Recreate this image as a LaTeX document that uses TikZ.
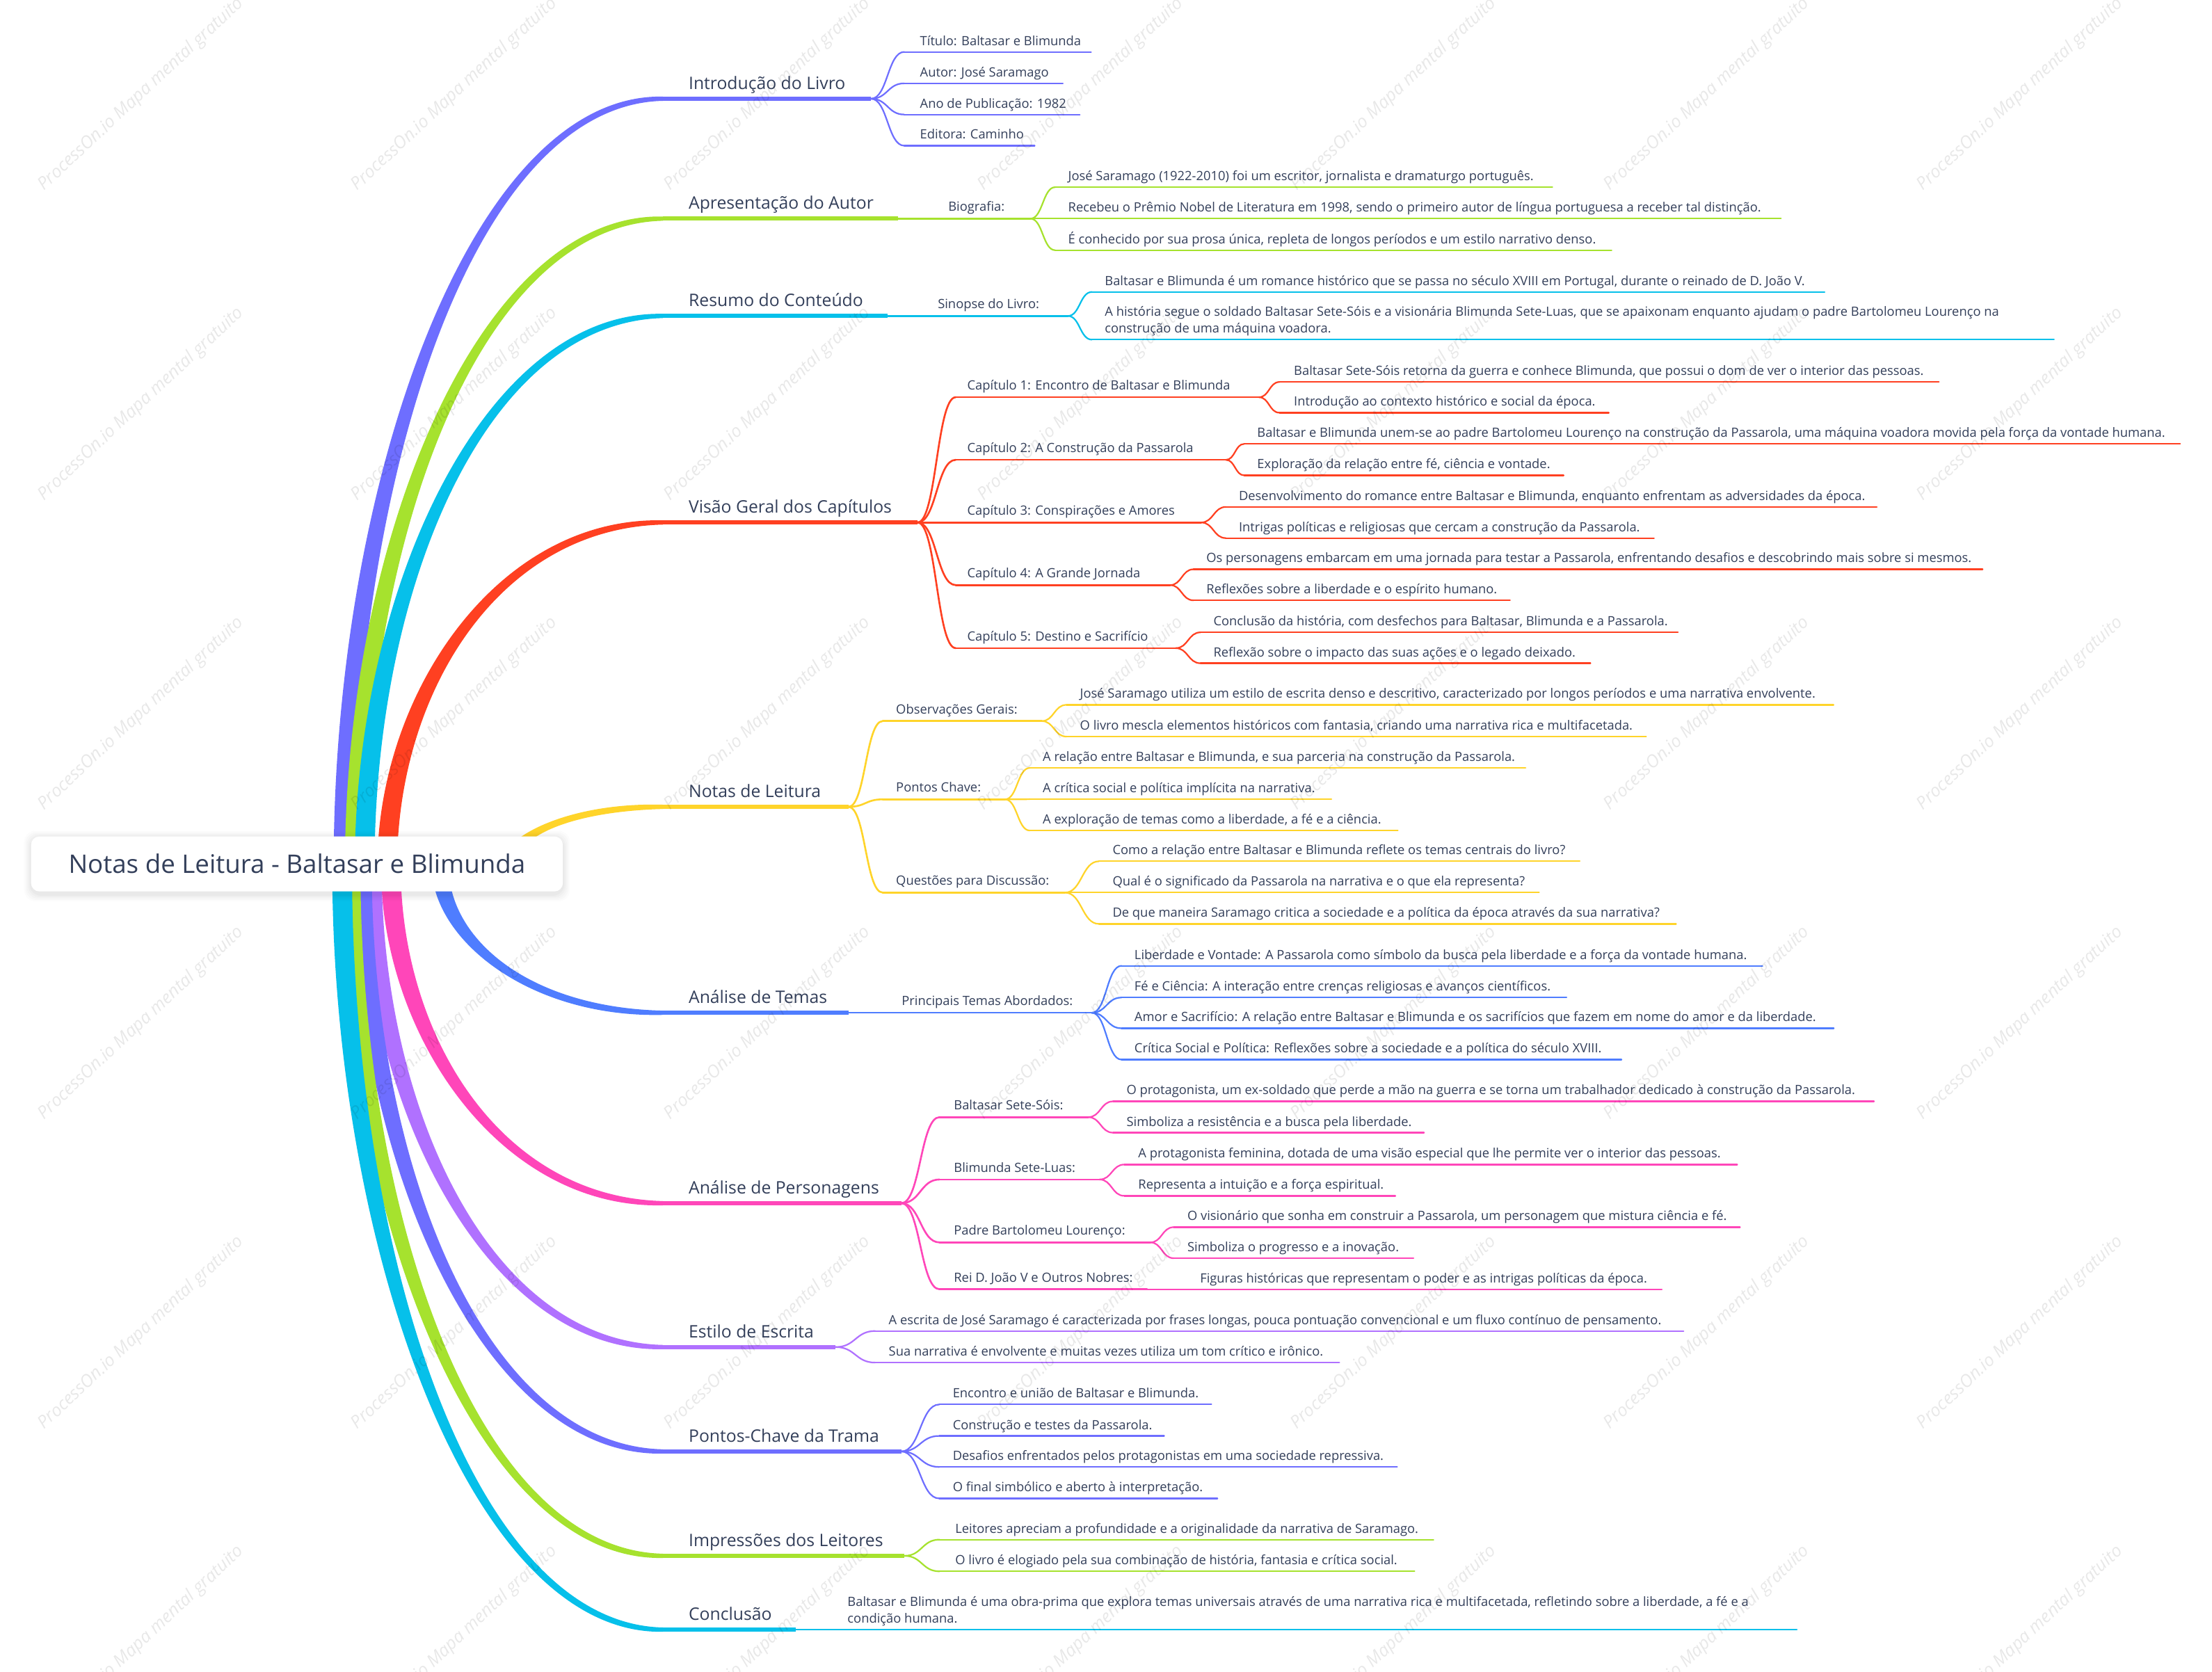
\documentclass[tikz,border=0pt]{standalone}
\usepackage{fontspec}
\setmainfont{Open Sans}
\usetikzlibrary{calc}
\definecolor{cV}{HTML}{6E6EFF}
\definecolor{cG}{HTML}{A6E22E}
\definecolor{cC}{HTML}{06C0EA}
\definecolor{cR}{HTML}{FF4021}
\definecolor{cY}{HTML}{FFD42A}
\definecolor{cB}{HTML}{4F7DFF}
\definecolor{cP}{HTML}{FF46B9}
\definecolor{cU}{HTML}{B071FF}
\definecolor{txt}{HTML}{333F5A}
% text node: name, style, x of line start, x of text, x of line end, y of line, text
\newcommand\tn[7]{\node[#2] (#1) at (#3,#6) {\hspace*{\dimexpr #4pt-#3pt\relax}\makebox[\dimexpr #5pt-#4pt\relax][l]{#7}};}
\newcommand\ul[2]{\draw[#2] (#1.south west) -- (#1.south east);}
\newcommand\cn[3]{\draw[#3] (#1.south east) to[bc] (#2.south west);}
% tapered main branch: colour, start coordinate, target node, start width, end width, sign (1 up, -1 down)
\newcommand\mainb[6]{%
\fill[#1] let \p1=(#2), \p2=(#3.south west), \n1={0.5*(\y2-\y1)}, \n2={\x1+0.4*(\x2-\x1)}, \n3={0.62*#4} in
 ({\x1-#4*0.5pt},\y1) .. controls ({\x1-#4*0.5pt},{\y1+(\n1)*1pt}) and ({(\n2)*1pt},{\y2+(#6)*(\n3)*0.5pt}) .. (\x2,{\y2+(#6)*#5*0.5pt})
 -- (\x2,{\y2-(#6)*#5*0.5pt}) .. controls ({(\n2)*1pt},{\y2-(#6)*(\n3)*0.5pt}) and ({\x1+#4*0.5pt},{\y1+(\n1)*1pt}) .. ({\x1+#4*0.5pt},\y1) -- cycle;}
\tikzset{
 bc/.style={to path={let \p1=(\tikztostart), \p2=(\tikztotarget), \n1={0.5*(\x2-\x1)} in .. controls ({\x1+(\n1)*1pt},\y1) and ({\x2-(\n1)*1pt},\y2) .. (\tikztotarget)}},
 tx/.style={text=txt, inner xsep=0pt, text depth=0pt, anchor=south west},
 lv1/.style={tx, font=\fontsize{12.2}{15}\selectfont, inner ysep=6.5pt, text height=9pt},
 lv2/.style={tx, font=\fontsize{9.05}{12}\selectfont, inner ysep=5pt, text height=7pt},
 lv3/.style={tx, font=\fontsize{9.05}{12}\selectfont, inner ysep=4.5pt, text height=7pt},
 m1/.style={line width=3pt, line cap=butt},
 m2/.style={line width=1.3pt, line cap=round},
 m3/.style={line width=1.1pt, line cap=round},
 rootbox/.style={fill=white, rounded corners=6pt, minimum width=377pt, minimum height=39pt, inner sep=0pt, text=txt, font=\fontsize{18.1}{22}\selectfont},
 wm/.style={font=\fontsize{12.4}{14}\selectfont\itshape, text=black, opacity=0.09, rotate=43, inner sep=0pt}
}
\begin{document}
\begin{tikzpicture}[x=1pt,y=-1pt]
\useasboundingbox (0,0) rectangle (1568,1185);
\fill[white] (0,0) rectangle (1568,1185);

% ---------- level 1 labels ----------
\tn{intro}{lv1}{470}{488}{617}{70}{Introdução do Livro}
\tn{autor}{lv1}{470}{488}{636}{155}{Apresentação do Autor}
\tn{resumo}{lv1}{470}{488}{629}{224}{Resumo do Conteúdo}
\tn{visao}{lv1}{470}{488}{650}{370.4}{Visão Geral dos Capítulos}
\tn{notas}{lv1}{470}{488}{601}{572}{Notas de Leitura}
\tn{temas}{lv1}{470}{488}{601}{718}{Análise de Temas}
\tn{perso}{lv1}{470}{488}{638.5}{853}{Análise de Personagens}
\tn{estilo}{lv1}{470}{488}{592}{955}{Estilo de Escrita}
\tn{pontos}{lv1}{470}{488}{638.5}{1029}{Pontos-Chave da Trama}
\tn{impr}{lv1}{470}{488}{640.7}{1103}{Impressões dos Leitores}
\tn{concl}{lv1}{470}{488}{563.6}{1155.3}{Conclusão}

% ---------- main branches ----------
\coordinate (r1) at (243.5,614);
\coordinate (r2) at (251.5,614);
\coordinate (r3) at (258.5,614);
\coordinate (r4) at (274.5,614);
\coordinate (r5) at (360,614);
\coordinate (r6) at (312,614);
\coordinate (r7) at (277,614);
\coordinate (r8) at (263.5,614);
\coordinate (r9) at (256.5,614);
\coordinate (r10) at (248.5,614);
\coordinate (r11) at (242.5,614);
\mainb{cV}{r1}{intro}{14}{3}{1}
\mainb{cG}{r2}{autor}{14}{3}{1}
\mainb{cC}{r3}{resumo}{14}{3}{1}
\mainb{cR}{r4}{visao}{14}{3}{1}
\mainb{cY}{r5}{notas}{11}{3}{1}
\mainb{cB}{r6}{temas}{12}{3}{-1}
\mainb{cP}{r7}{perso}{14}{3}{-1}
\mainb{cU}{r8}{estilo}{14}{3}{-1}
\mainb{cV}{r9}{pontos}{14}{3}{-1}
\mainb{cG}{r10}{impr}{14}{3}{-1}
\mainb{cC}{r11}{concl}{14}{3}{-1}
\ul{intro}{m1,cV}\ul{autor}{m1,cG}\ul{resumo}{m1,cC}\ul{visao}{m1,cR}
\ul{notas}{m1,cY}\ul{temas}{m1,cB}\ul{perso}{m1,cP}\ul{estilo}{m1,cU}
\ul{pontos}{m1,cV}\ul{impr}{m1,cG}\ul{concl}{m1,cC}

% ---------- Introdução ----------
\tn{t1}{lv3}{641}{652}{773}{36.8}{Título: Baltasar e Blimunda}
\tn{t2}{lv3}{641}{652}{753}{59.1}{Autor: José Saramago}
\tn{t3}{lv3}{641}{652}{765}{81.2}{Ano de Publicação: 1982}
\tn{t4}{lv3}{641}{652}{733}{103.3}{Editora: Caminho}
\foreach \c in {t1,t2,t3,t4}{\cn{intro}{\c}{m3,cV}\ul{\c}{m3,cV}}

% ---------- Apresentação ----------
\tn{bio}{lv2}{654}{672}{730}{155}{Biografia:}
\cn{autor}{bio}{m2,cG}\ul{bio}{m2,cG}
\tn{b1}{lv3}{748}{757}{1100}{132.7}{José Saramago (1922-2010) foi um escritor, jornalista e dramaturgo português.}
\tn{b2}{lv3}{748}{757}{1262}{155}{Recebeu o Prêmio Nobel de Literatura em 1998, sendo o primeiro autor de língua portuguesa a receber tal distinção.}
\tn{b3}{lv3}{748}{757}{1142}{177.4}{É conhecido por sua prosa única, repleta de longos períodos e um estilo narrativo denso.}
\foreach \c in {b1,b2,b3}{\cn{bio}{\c}{m3,cG}\ul{\c}{m3,cG}}

% ---------- Resumo ----------
\tn{sin}{lv2}{646.6}{664.6}{756.6}{224}{Sinopse do Livro:}
\cn{resumo}{sin}{m2,cC}\ul{sin}{m2,cC}
\tn{s1}{lv3}{774}{783}{1293}{207}{Baltasar e Blimunda é um romance histórico que se passa no século XVIII em Portugal, durante o reinado de D. João V.}
\tn{s2}{lv3}{774}{783}{1455.6}{240.8}{\parbox[b]{800pt}{\raggedright A história segue o soldado Baltasar Sete-Sóis e a visionária Blimunda Sete-Luas, que se apaixonam enquanto ajudam o padre Bartolomeu Lourenço na\\construção de uma máquina voadora.}}
\foreach \c in {s1,s2}{\cn{sin}{\c}{m3,cC}\ul{\c}{m3,cC}}

% ---------- Visão Geral ----------
\tn{cap1}{lv2}{677.5}{685.5}{892}{281.6}{Capítulo 1: Encontro de Baltasar e Blimunda}
\tn{cap2}{lv2}{677.5}{685.5}{868.6}{326}{Capítulo 2: A Construção da Passarola}
\tn{cap3}{lv2}{677.5}{685.5}{851}{370.4}{Capítulo 3: Conspirações e Amores}
\tn{cap4}{lv2}{677.5}{685.5}{829}{414.8}{Capítulo 4: A Grande Jornada}
\tn{cap5}{lv2}{677.5}{685.5}{833}{459.5}{Capítulo 5: Destino e Sacrifício}
\foreach \c in {cap1,cap2,cap3,cap4,cap5}{\cn{visao}{\c}{m2,cR}\ul{\c}{m2,cR}}
\tn{c11}{lv3}{907}{917}{1374}{270.8}{Baltasar Sete-Sóis retorna da guerra e conhece Blimunda, que possui o dom de ver o interior das pessoas.}
\tn{c12}{lv3}{907}{917}{1140}{292.6}{Introdução ao contexto histórico e social da época.}
\tn{c21}{lv3}{882}{891}{1545}{314.7}{Baltasar e Blimunda unem-se ao padre Bartolomeu Lourenço na construção da Passarola, uma máquina voadora movida pela força da vontade humana.}
\tn{c22}{lv3}{882}{891}{1108}{337}{Exploração da relação entre fé, ciência e vontade.}
\tn{c31}{lv3}{869}{878}{1330}{359.4}{Desenvolvimento do romance entre Baltasar e Blimunda, enquanto enfrentam as adversidades da época.}
\tn{c32}{lv3}{869}{878}{1172}{381.5}{Intrigas políticas e religiosas que cercam a construção da Passarola.}
\tn{c41}{lv3}{846}{855}{1405}{403.6}{Os personagens embarcam em uma jornada para testar a Passarola, enfrentando desafios e descobrindo mais sobre si mesmos.}
\tn{c42}{lv3}{846}{855}{1070}{425.6}{Reflexões sobre a liberdade e o espírito humano.}
\tn{c51}{lv3}{851}{860}{1189}{448.3}{Conclusão da história, com desfechos para Baltasar, Blimunda e a Passarola.}
\tn{c52}{lv3}{851}{860}{1127}{470.2}{Reflexão sobre o impacto das suas ações e o legado deixado.}
\foreach \p/\c in {cap1/c11,cap1/c12,cap2/c21,cap2/c22,cap3/c31,cap3/c32,cap4/c41,cap4/c42,cap5/c51,cap5/c52}{\cn{\p}{\c}{m3,cR}\ul{\c}{m3,cR}}

% ---------- Notas de Leitura ----------
\tn{obs}{lv2}{625.7}{635}{738}{511.2}{Observações Gerais:}
\tn{pch}{lv2}{625.7}{635}{712}{566.7}{Pontos Chave:}
\tn{que}{lv2}{625.7}{635}{754.5}{632.8}{Questões para Discussão:}
\foreach \c in {obs,pch,que}{\cn{notas}{\c}{m2,cY}\ul{\c}{m2,cY}}
\tn{o1}{lv3}{756}{765.4}{1299.3}{499.7}{José Saramago utiliza um estilo de escrita denso e descritivo, caracterizado por longos períodos e uma narrativa envolvente.}
\tn{o2}{lv3}{756}{765.4}{1166.5}{522.2}{O livro mescla elementos históricos com fantasia, criando uma narrativa rica e multifacetada.}
\tn{p1}{lv3}{730}{739}{1081}{544.4}{A relação entre Baltasar e Blimunda, e sua parceria na construção da Passarola.}
\tn{p2}{lv3}{730}{739}{943.4}{566.6}{A crítica social e política implícita na narrativa.}
\tn{p3}{lv3}{730}{739}{990.5}{588.8}{A exploração de temas como a liberdade, a fé e a ciência.}
\tn{q1}{lv3}{779}{788.5}{1119.4}{610.6}{Como a relação entre Baltasar e Blimunda reflete os temas centrais do livro?}
\tn{q2}{lv3}{779}{788.5}{1090.6}{632.8}{Qual é o significado da Passarola na narrativa e o que ela representa?}
\tn{q3}{lv3}{779}{788.5}{1187.7}{655}{De que maneira Saramago critica a sociedade e a política da época através da sua narrativa?}
\foreach \p/\c in {obs/o1,obs/o2,pch/p1,pch/p2,pch/p3,que/q1,que/q2,que/q3}{\cn{\p}{\c}{m3,cY}\ul{\c}{m3,cY}}

% ---------- Análise de Temas ----------
\tn{pta}{lv2}{623}{639}{773.5}{718}{Principais Temas Abordados:}
\cn{temas}{pta}{m2,cB}\ul{pta}{m2,cB}
\tn{a1}{lv3}{795}{804}{1249}{684.7}{Liberdade e Vontade: A Passarola como símbolo da busca pela liberdade e a força da vontade humana.}
\tn{a2}{lv3}{795}{804}{1110}{707.2}{Fé e Ciência: A interação entre crenças religiosas e avanços científicos.}
\tn{a3}{lv3}{795}{804}{1299.5}{729}{Amor e Sacrifício: A relação entre Baltasar e Blimunda e os sacrifícios que fazem em nome do amor e da liberdade.}
\tn{a4}{lv3}{795}{804}{1149}{751.2}{Crítica Social e Política: Reflexões sobre a sociedade e a política do século XVIII.}
\foreach \c in {a1,a2,a3,a4}{\cn{pta}{\c}{m3,cB}\ul{\c}{m3,cB}}

% ---------- Análise de Personagens ----------
\tn{bal}{lv2}{666}{676}{771}{792}{Baltasar Sete-Sóis:}
\tn{bli}{lv2}{666}{676}{779}{836.2}{Blimunda Sete-Luas:}
\tn{pad}{lv2}{666}{676}{815}{880.8}{Padre Bartolomeu Lourenço:}
\tn{rei}{lv2}{666}{676}{812.7}{914}{Rei D. João V e Outros Nobres:}
\foreach \c in {bal,bli,pad,rei}{\cn{perso}{\c}{m2,cP}\ul{\c}{m2,cP}}
\tn{h1}{lv3}{789}{798.4}{1328}{780.8}{O protagonista, um ex-soldado que perde a mão na guerra e se torna um trabalhador dedicado à construção da Passarola.}
\tn{h2}{lv3}{789}{798.4}{1009}{803}{Simboliza a resistência e a busca pela liberdade.}
\tn{h3}{lv3}{797}{806.7}{1231}{825.6}{A protagonista feminina, dotada de uma visão especial que lhe permite ver o interior das pessoas.}
\tn{h4}{lv3}{797}{806.7}{988.7}{847.8}{Representa a intuição e a força espiritual.}
\tn{h5}{lv3}{832}{841.5}{1233}{870}{O visionário que sonha em construir a Passarola, um personagem que mistura ciência e fé.}
\tn{h6}{lv3}{832}{841.5}{1001.6}{892}{Simboliza o progresso e a inovação.}
\tn{h7}{lv3}{832}{850.5}{1177.6}{914}{Figuras históricas que representam o poder e as intrigas políticas da época.}
\foreach \p/\c in {bal/h1,bal/h2,bli/h3,bli/h4,pad/h5,pad/h6,rei/h7}{\cn{\p}{\c}{m3,cP}\ul{\c}{m3,cP}}

% ---------- Estilo de Escrita ----------
\tn{e1}{lv3}{620.4}{629.8}{1193}{943.6}{A escrita de José Saramago é caracterizada por frases longas, pouca pontuação convencional e um fluxo contínuo de pensamento.}
\tn{e2}{lv3}{620.4}{629.8}{949}{966}{Sua narrativa é envolvente e muitas vezes utiliza um tom crítico e irônico.}
\foreach \c in {e1,e2}{\cn{estilo}{\c}{m3,cU}\ul{\c}{m3,cU}}

% ---------- Pontos-Chave ----------
\tn{k1}{lv3}{665.8}{675.2}{858.3}{995.7}{Encontro e união de Baltasar e Blimunda.}
\tn{k2}{lv3}{665.8}{675.2}{824.8}{1018}{Construção e testes da Passarola.}
\tn{k3}{lv3}{665.8}{675.2}{990}{1040}{Desafios enfrentados pelos protagonistas em uma sociedade repressiva.}
\tn{k4}{lv3}{665.8}{675.2}{862.6}{1062.3}{O final simbólico e aberto à interpretação.}
\foreach \c in {k1,k2,k3,k4}{\cn{pontos}{\c}{m3,cV}\ul{\c}{m3,cV}}

% ---------- Impressões ----------
\tn{i1}{lv3}{666}{677}{1015.7}{1091.5}{Leitores apreciam a profundidade e a originalidade da narrativa de Saramago.}
\tn{i2}{lv3}{666}{677}{1002.3}{1114}{O livro é elogiado pela sua combinação de história, fantasia e crítica social.}
\foreach \c in {i1,i2}{\cn{impr}{\c}{m3,cG}\ul{\c}{m3,cG}}

% ---------- Conclusão ----------
\tn{z1}{lv3}{583}{600.6}{1273.3}{1155.3}{\parbox[b]{800pt}{\raggedright Baltasar e Blimunda é uma obra-prima que explora temas universais através de uma narrativa rica e multifacetada, refletindo sobre a liberdade, a fé e a\\condição humana.}}
\cn{concl}{z1}{m3,cC}\ul{z1}{m3,cC}

% ---------- root ----------
\foreach \k/\op in {5/0.012,4/0.014,3/0.016,2/0.02,1/0.025}{
  \fill[black, opacity=\op, rounded corners=8pt] ({22-\k},{594-\k}) rectangle ({399+\k},{634+\k});}
\node[rootbox] (root) at (210.5,612.5) {Notas de Leitura - Baltasar e Blimunda};

% ---------- watermark ----------
\foreach \i in {0,...,6}{\foreach \j in {0,...,5}{
  \node[wm] (wm\i\j) at ({100+222*\i},{67+219.5*\j}) {ProcessOn.io Mapa mental gratuito};}}
\end{tikzpicture}
\end{document}
